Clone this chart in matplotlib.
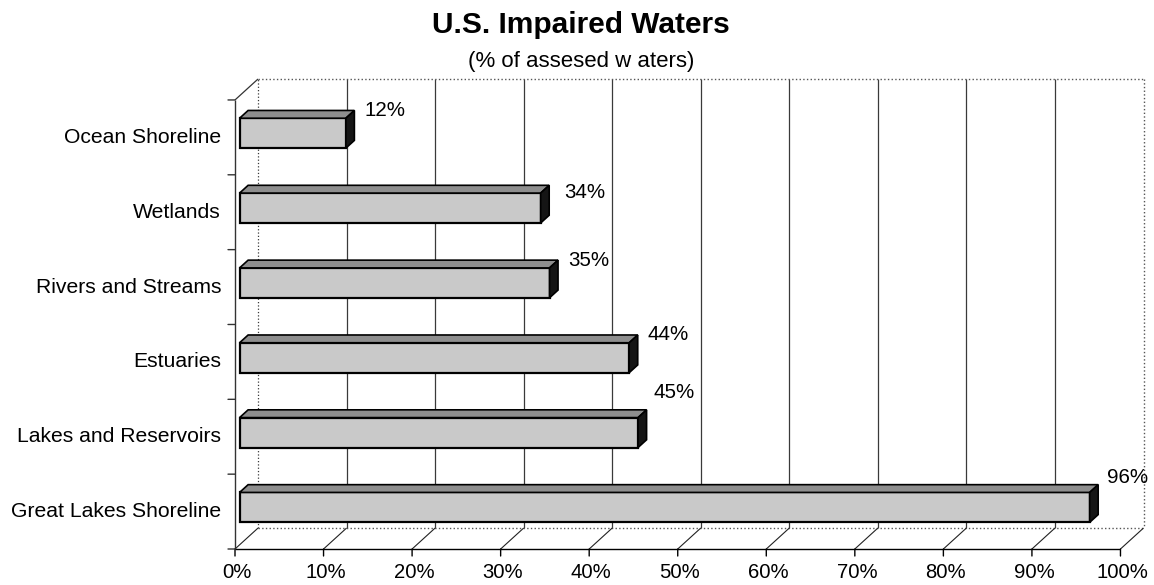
import matplotlib
matplotlib.use("Agg")
import matplotlib.pyplot as plt
from matplotlib.patches import Polygon
from matplotlib.transforms import ScaledTranslation

plt.rcParams["font.family"] = ["Liberation Sans", "DejaVu Sans"]

# Data
categories = ["Ocean Shoreline", "Wetlands", "Rivers and Streams",
              "Estuaries", "Lakes and Reservoirs", "Great Lakes Shoreline"]
values = [12, 34, 35, 44, 45, 96]
tick_values = [0, 10, 20, 30, 40, 50, 60, 70, 80, 90, 100]
tick_labels = ["0%", "10%", "20%", "30%", "40%", "50%", "60%", "70%", "80%", "90%", "100%"]

# 3-D box geometry (oblique projection: depth shifts right and up)
DX = 2.6      # depth shift in value units
DY = 0.28     # depth shift in category units
D_FRONT, D_BACK = 0.20, 0.57   # bar depth span as fraction of box depth
BAR_H = 0.40

FACE = "#c9c9c9"
TOP = "#8e8e8e"
SIDE = "#151515"

W, H = 1154, 585
fig = plt.figure(figsize=(W / 100, H / 100), dpi=100)
ax = fig.add_axes([235 / W, 36 / H, 908.5 / W, 470 / H])
n = len(categories)
ax.set_xlim(0, 100 + DX)
ax.set_ylim(-0.5, n - 0.5 + DY)
ax.axis("off")


def off(dx, dy):
    return ax.transData + ScaledTranslation(dx / 100, dy / 100, fig.dpi_scale_trans)


def proj(v, y, d):
    return v + d * DX, y + d * DY


def stub(x, y, dx, dy, color="black"):
    ax.annotate("", xy=(x, y), xytext=(dx, dy), textcoords="offset pixels",
                arrowprops=dict(arrowstyle="-", color=color, lw=1.0,
                                shrinkA=0, shrinkB=0), annotation_clip=False)


y_lo, y_hi = -0.5, n - 0.5
line_kw = dict(clip_on=False, solid_capstyle="butt")

# back wall: vertical gridlines
for v in tick_values[:-1]:
    x0, y0 = proj(v, y_lo, 1)
    x1, y1 = proj(v, y_hi, 1)
    ls = ":" if v == 0 else "-"
    ax.plot([x0, x1], [y0, y1], color="#3a3a3a", lw=0.9, ls=ls, **line_kw)
# back wall top and right edges (dotted)
xa, ya = proj(0, y_hi, 1)
xb, yb = proj(100, y_hi, 1)
xc, yc = proj(100, y_lo, 1)
ax.plot([xa, xb], [ya, yb], color="#555555", lw=1.0, ls=":", **line_kw)
ax.plot([xb, xc], [yb, yc], color="#555555", lw=1.0, ls=":", **line_kw)

# floor: back edge and depth diagonals
xa, ya = proj(0, y_lo, 1)
ax.plot([xa, xc], [ya, yc], color="#555555", lw=1.0, ls=":", **line_kw)
for v in tick_values:
    x0, y0 = proj(v, y_lo, 0)
    x1, y1 = proj(v, y_lo, 1)
    ax.plot([x0, x1], [y0, y1], color="#222222", lw=0.8, **line_kw)

# front floor edge with ticks and percentage labels
ax.plot([0, 100], [y_lo, y_lo], color="black", lw=1.0, **line_kw)
for v, lab in zip(tick_values, tick_labels):
    stub(v, y_lo, 0, -7)
    ax.text(v, y_lo, lab, transform=off(2, -24), ha="center", va="center",
            fontsize=14.6, color="black", clip_on=False)

# left wall: front vertical axis with ticks and top diagonal
ax.plot([0, 0], [y_lo, y_hi], color="#333333", lw=1.0, **line_kw)
xt, yt = proj(0, y_hi, 1)
ax.plot([0, xt], [y_hi, yt], color="#333333", lw=0.9, **line_kw)
for k in range(n + 1):
    stub(0, y_lo + k, -7, 0, color="#333333")

# bars (top row = first category)
label_nudge = {1: (5, -7), 4: (-3, 17), 5: (-1, 7)}
for i, (cat, v) in enumerate(zip(categories, values)):
    yc_ = n - 1 - i
    yb_, yt_ = yc_ - BAR_H / 2, yc_ + BAR_H / 2
    # front face
    f = [proj(0, yb_, D_FRONT), proj(v, yb_, D_FRONT),
         proj(v, yt_, D_FRONT), proj(0, yt_, D_FRONT)]
    ax.add_patch(Polygon(f, closed=True, fc=FACE, ec="black", lw=1.6,
                         joinstyle="miter", clip_on=False, zorder=3))
    # top face
    t = [proj(0, yt_, D_FRONT), proj(v, yt_, D_FRONT),
         proj(v, yt_, D_BACK), proj(0, yt_, D_BACK)]
    ax.add_patch(Polygon(t, closed=True, fc=TOP, ec="black", lw=1.2,
                         joinstyle="miter", clip_on=False, zorder=3))
    # side face
    s = [proj(v, yb_, D_FRONT), proj(v, yt_, D_FRONT),
         proj(v, yt_, D_BACK), proj(v, yb_, D_BACK)]
    ax.add_patch(Polygon(s, closed=True, fc=SIDE, ec="black", lw=1.2,
                         joinstyle="miter", clip_on=False, zorder=3))
    # value label at the back-top end of the bar
    lx, ly = proj(v, yt_, D_BACK)
    ndx, ndy = label_nudge.get(i, (0, 0))
    ax.text(lx, ly, f"{v}%", transform=off(10 + ndx, 0 + ndy),
            ha="left", va="center", fontsize=14.8, color="black",
            clip_on=False, zorder=4)
    # category label
    ax.text(0, yc_, cat, transform=off(-14, 0), ha="right", va="center",
            fontsize=15.2, color="black", clip_on=False)

fig.text(581 / W, 1 - 25 / H, "U.S. Impaired Waters", ha="center", va="center",
         fontsize=21.5, fontweight="bold")
fig.text(581 / W, 1 - 61 / H, "(% of assesed w aters)", ha="center", va="center",
         fontsize=16)

fig.savefig("out.png", dpi=100, facecolor="white")
